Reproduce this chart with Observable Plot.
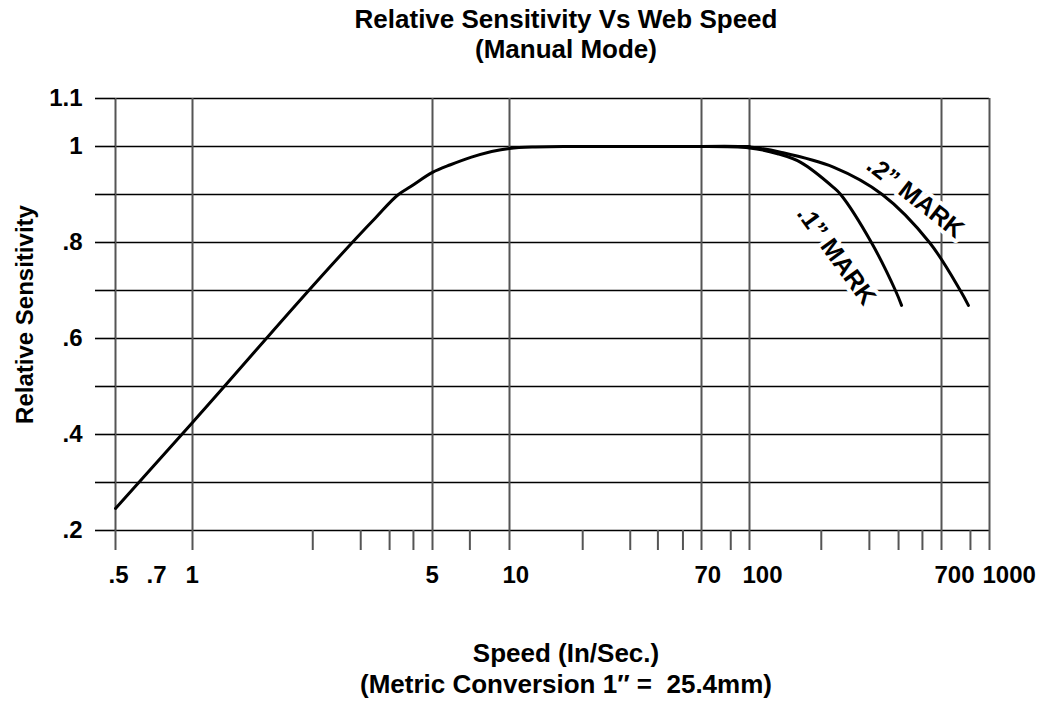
<!DOCTYPE html>
<html><head><meta charset="utf-8">
<script src="https://cdn.jsdelivr.net/npm/d3@7"></script>
<script src="https://cdn.jsdelivr.net/npm/@observablehq/plot@0.6"></script>
<style>
body{margin:0;background:#fff;font-family:"Liberation Sans",Arial,Helvetica,sans-serif;color:#000;width:1046px;overflow:hidden}
.t{box-sizing:border-box;width:1046px;padding-left:86px;text-align:center;font-weight:bold;font-size:26px;line-height:30px}
#title{height:70px;padding-top:4px}
#caption{padding-top:38px;line-height:31px}
</style></head><body>
<div id="title" class="t">Relative Sensitivity Vs Web Speed<br>(Manual Mode)</div>
<div id="chart"></div>
<div id="caption" class="t">Speed (In/Sec.)<br>(Metric Conversion 1″ =&nbsp; 25.4mm)</div>
<script>
// labelled speed ticks (In/Sec.) and the drawn position of each on the original's hand-drawn scale
const tickValues = [0.5, 0.7, 1, 5, 10, 70, 100, 700, 1000];
const tickLabels = [".5", ".7", "1", "5", "10", "70", "100", "700", "1000"];
const tickPixels = [115, 153, 192, 432, 509, 701, 749, 941, 989];
const gridSpeeds = [0.5, 1, 5, 10, 70, 100, 700, 1000];
const minorSpeeds = [2.24, 3.09, 3.75, 4.4, 7, 21, 34, 45, 58, 87, 207, 337, 453, 577, 868];

const sensTicks = [0.2, 0.3, 0.4, 0.5, 0.6, 0.7, 0.8, 0.9, 1.0, 1.1];
const sensLabelValues = [0.2, 0.4, 0.6, 0.8, 1, 1.1];
const sensLabels = [".2", ".4", ".6", ".8", "1", "1.1"];

// main response curve
const mainSpeed = [0.5, 1, 3.41, 3.98, 4.31, 5, 5.88, 7.1, 10, 13, 17.3, 100];
const mainSens  = [0.246, 0.425, 0.851, 0.9, 0.916, 0.946, 0.962, 0.978, 0.996, 0.999, 1.0, 1.0];
// .1" mark branch
const mark1Speed = [70, 100, 133, 168, 234, 252, 344, 439, 467];
const mark1Sens  = [1.0, 0.997, 0.985, 0.967, 0.915, 0.9, 0.8, 0.7, 0.669];
// .2" mark branch
const mark2Speed = [70, 100, 137, 234, 384, 620, 805, 855];
const mark2Sens  = [1.0, 0.999, 0.988, 0.957, 0.9, 0.8, 0.7, 0.669];

const curveLabels = [".2\u201D MARK", ".1\u201D MARK"];
const labelSpeed = [537, 241];
const labelSens = [0.894, 0.773];
const labelAngle = [38, 54];

const toRows = (xs, ys) => xs.map((x, i) => ({x, y: ys[i]}));
const font = `"Liberation Sans", Arial, Helvetica, sans-serif`;

const chart = Plot.plot({
  width: 1046,
  height: 530,
  marginLeft: 115,
  marginRight: 57,
  marginTop: 28,
  marginBottom: 70,
  style: {fontFamily: font, background: "#fff", color: "#000", overflow: "visible"},
  x: {type: "log", domain: tickValues, range: tickPixels},
  y: {domain: [0.2, 1.1]},
  marks: [
    Plot.ruleY(sensTicks, {x1: 0.5, x2: 1000, stroke: "#000", strokeWidth: 1.6}),
    Plot.ruleX(gridSpeeds, {y1: 0.2, y2: 1.1, stroke: "#555", strokeWidth: 2}),
    Plot.axisY(sensTicks, {tickSize: 20, tickFormat: () => "", stroke: "#000", strokeWidth: 1.6, label: null}),
    Plot.axisX(gridSpeeds.concat(minorSpeeds), {tickSize: 20, tickFormat: () => "", stroke: "#555", strokeWidth: 2, label: null}),
    Plot.text(tickValues, {x: d => d, text: (d, i) => tickLabels[i], frameAnchor: "bottom", lineAnchor: "top", textAnchor: "start", dx: -7, dy: 35, fontSize: 24, fontWeight: "bold"}),
    Plot.text(sensLabelValues, {y: d => d, text: (d, i) => sensLabels[i], frameAnchor: "left", textAnchor: "end", dx: -33, fontSize: 24, fontWeight: "bold"}),
    Plot.text(["Relative Sensitivity"], {frameAnchor: "left", textAnchor: "middle", lineAnchor: "middle", dx: -90, rotate: -90, fontSize: 24, fontWeight: "bold"}),
    Plot.line(toRows(mainSpeed, mainSens), {x: "x", y: "y", curve: "monotone-x", stroke: "#000", strokeWidth: 3}),
    Plot.line(toRows(mark1Speed, mark1Sens), {x: "x", y: "y", curve: "catmull-rom", stroke: "#000", strokeWidth: 3}),
    Plot.line(toRows(mark2Speed, mark2Sens), {x: "x", y: "y", curve: "catmull-rom", stroke: "#000", strokeWidth: 3}),
    Plot.text(curveLabels.map((t, i) => ({t, x: labelSpeed[i], y: labelSens[i], a: labelAngle[i]})),
      {x: "x", y: "y", text: "t", rotate: "a", fontSize: 25, fontWeight: "bold", fill: "#000", stroke: "#fff", strokeWidth: 8})
  ]
});
document.getElementById("chart").appendChild(chart);
</script>
</body></html>
